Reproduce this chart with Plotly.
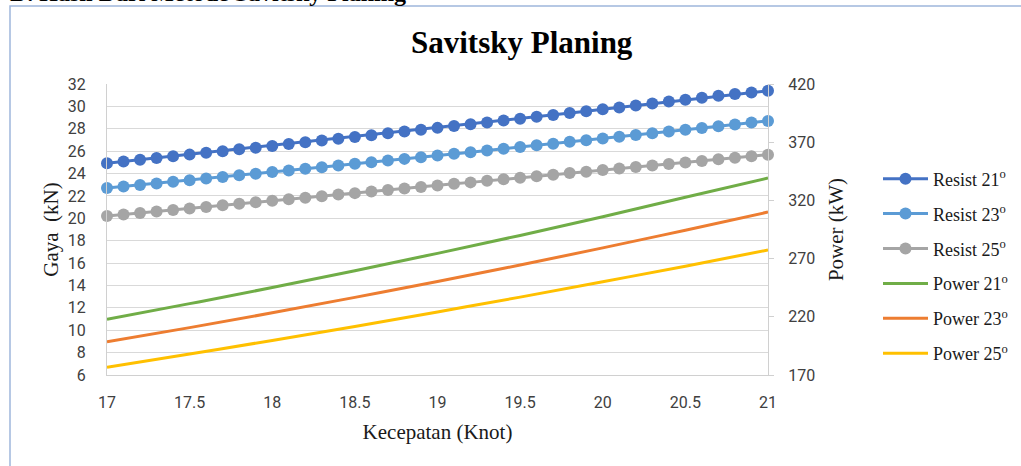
import plotly.graph_objects as go

speed = [17.0, 17.1, 17.2, 17.3, 17.4, 17.5, 17.6, 17.7, 17.8, 17.9,
         18.0, 18.1, 18.2, 18.3, 18.4, 18.5, 18.6, 18.7, 18.8, 18.9,
         19.0, 19.1, 19.2, 19.3, 19.4, 19.5, 19.6, 19.7, 19.8, 19.9,
         20.0, 20.1, 20.2, 20.3, 20.4, 20.5, 20.6, 20.7, 20.8, 20.9, 21.0]

resist_21 = [24.92, 25.08, 25.23, 25.38, 25.54, 25.69, 25.85, 26.00, 26.16, 26.31,
             26.47, 26.63, 26.79, 26.95, 27.11, 27.27, 27.43, 27.59, 27.75, 27.91,
             28.08, 28.24, 28.41, 28.57, 28.74, 28.90, 29.07, 29.24, 29.40, 29.57,
             29.74, 29.91, 30.08, 30.25, 30.43, 30.60, 30.77, 30.94, 31.10, 31.25, 31.40]
resist_23 = [22.70, 22.84, 22.98, 23.12, 23.27, 23.41, 23.55, 23.70, 23.84, 23.99,
             24.13, 24.28, 24.42, 24.57, 24.72, 24.87, 25.01, 25.16, 25.31, 25.46,
             25.61, 25.76, 25.91, 26.06, 26.21, 26.37, 26.52, 26.67, 26.83, 26.98,
             27.14, 27.29, 27.45, 27.60, 27.76, 27.92, 28.07, 28.23, 28.39, 28.55, 28.70]
resist_25 = [20.20, 20.34, 20.47, 20.61, 20.75, 20.88, 21.02, 21.16, 21.30, 21.43,
             21.57, 21.71, 21.84, 21.98, 22.12, 22.25, 22.39, 22.53, 22.67, 22.80,
             22.94, 23.08, 23.21, 23.35, 23.49, 23.62, 23.76, 23.90, 24.04, 24.17,
             24.31, 24.45, 24.58, 24.72, 24.86, 24.99, 25.13, 25.27, 25.41, 25.54, 25.68]

power_speed = [17.0, 17.5, 18.0, 18.5, 19.0, 19.5, 20.0, 20.5, 21.0]
power_21 = [217.9, 231.3, 245.1, 259.5, 274.5, 289.9, 306.0, 322.7, 339.2]
power_23 = [198.5, 210.7, 223.4, 236.7, 250.3, 264.5, 279.2, 294.4, 310.0]
power_25 = [176.6, 188.0, 199.7, 211.7, 224.2, 236.9, 250.1, 263.5, 277.4]

left_ticks = list(range(6, 33, 2))
right_ticks = [170, 220, 270, 320, 370, 420]
x_ticks = [17, 17.5, 18, 18.5, 19, 19.5, 20, 20.5, 21]

W, H = 1021, 466
L, R, T, B = 107, 253, 84, 91
pw, ph = W - L - R, H - T - B

def px(xp):
    return (xp - L) / pw

def py(yp):
    return (H - B - yp) / ph

serif = "Liberation Serif, Times New Roman, serif"
sans = "Roboto, Liberation Sans, sans-serif"
tick_col = "#404040"
text_col = "#1a1a1a"

fig = go.Figure()

res_series = [("Resist 21<sup>o</sup>", resist_21, "#4472C4"),
              ("Resist 23<sup>o</sup>", resist_23, "#5B9BD5"),
              ("Resist 25<sup>o</sup>", resist_25, "#A5A5A5")]
for i, (name, vals, col) in enumerate(res_series):
    fig.add_trace(go.Scatter(x=speed, y=vals, name=name, mode="lines+markers",
                             line=dict(color=col, width=3),
                             marker=dict(color=col, size=12),
                             cliponaxis=False, legendgroup=f"g{i}", yaxis="y"))

pow_series = [("Power 21<sup>o</sup>", power_21, "#70AD47"),
              ("Power 23<sup>o</sup>", power_23, "#ED7D31"),
              ("Power 25<sup>o</sup>", power_25, "#FFC000")]
for i, (name, vals, col) in enumerate(pow_series):
    fig.add_trace(go.Scatter(x=power_speed, y=vals, name=name, mode="lines",
                             line=dict(color=col, width=3, shape="spline"),
                             cliponaxis=False, legendgroup=f"p{i}", yaxis="y2"))

fig.update_layout(
    width=W, height=H,
    margin=dict(l=L, r=R, t=T, b=B, autoexpand=False),
    paper_bgcolor="white", plot_bgcolor="white",
    showlegend=True,
    legend=dict(x=px(878), y=py(266), xanchor="left", yanchor="middle",
                font=dict(family=serif, size=18, color=text_col),
                tracegroupgap=8.5, itemwidth=45, bgcolor="rgba(0,0,0,0)"),
    xaxis=dict(range=[17, 21], tickvals=x_ticks, ticktext=[str(v) for v in x_ticks],
               showgrid=False, zeroline=False, showline=True, linecolor="#d0d0d0",
               linewidth=1, ticks="", tickfont=dict(family=sans, size=16, color=tick_col),
               ticklabelstandoff=13,
               title=dict(text="Kecepatan (Knot)", font=dict(family=serif, size=21, color=text_col),
                          standoff=13)),
    yaxis=dict(range=[6, 32], tickvals=left_ticks, showgrid=True, gridcolor="#d9d9d9",
               gridwidth=1, zeroline=False, showline=True, linecolor="#d0d0d0",
               ticks="", tickfont=dict(family=sans, size=16, color=tick_col),
               ticklabelstandoff=17,
               title=dict(text="Gaya\u00a0\u00a0(kN)", font=dict(family=serif, size=21, color=text_col),
                          standoff=3)),
    yaxis2=dict(range=[170, 420], tickvals=right_ticks, overlaying="y", side="right",
                showgrid=False, zeroline=False, showline=True, linecolor="#d0d0d0",
                ticks="outside", ticklen=5, tickcolor="#d0d0d0",
                tickfont=dict(family=sans, size=16, color=tick_col),
                ticklabelstandoff=11,
                title=dict(text="Power (kW)", font=dict(family=serif, size=21, color=text_col),
                           standoff=14)),
)

fig.add_annotation(text="<b>Savitsky Planing</b>", xref="paper", yref="paper",
                   x=px(522), y=py(42), xanchor="center", yanchor="middle",
                   showarrow=False, font=dict(family=serif, size=31, color="#000000"))

fig.add_annotation(text="<b>D. Hasil Dari Metode Savitsky Planing</b>", xref="paper", yref="paper",
                   x=px(8), y=py(8), xanchor="left", yanchor="bottom",
                   showarrow=False, font=dict(family=serif, size=24, color="#000000"))

fig.add_shape(type="rect", xref="paper", yref="paper",
              x0=px(10), x1=px(1040), y0=py(490), y1=py(6),
              line=dict(color="#9fb6dc", width=1.5), fillcolor="rgba(0,0,0,0)")

fig.write_html("out.html", config={"displayModeBar": False},
               post_script="document.body.style.margin='0';document.body.style.overflow='hidden';")
